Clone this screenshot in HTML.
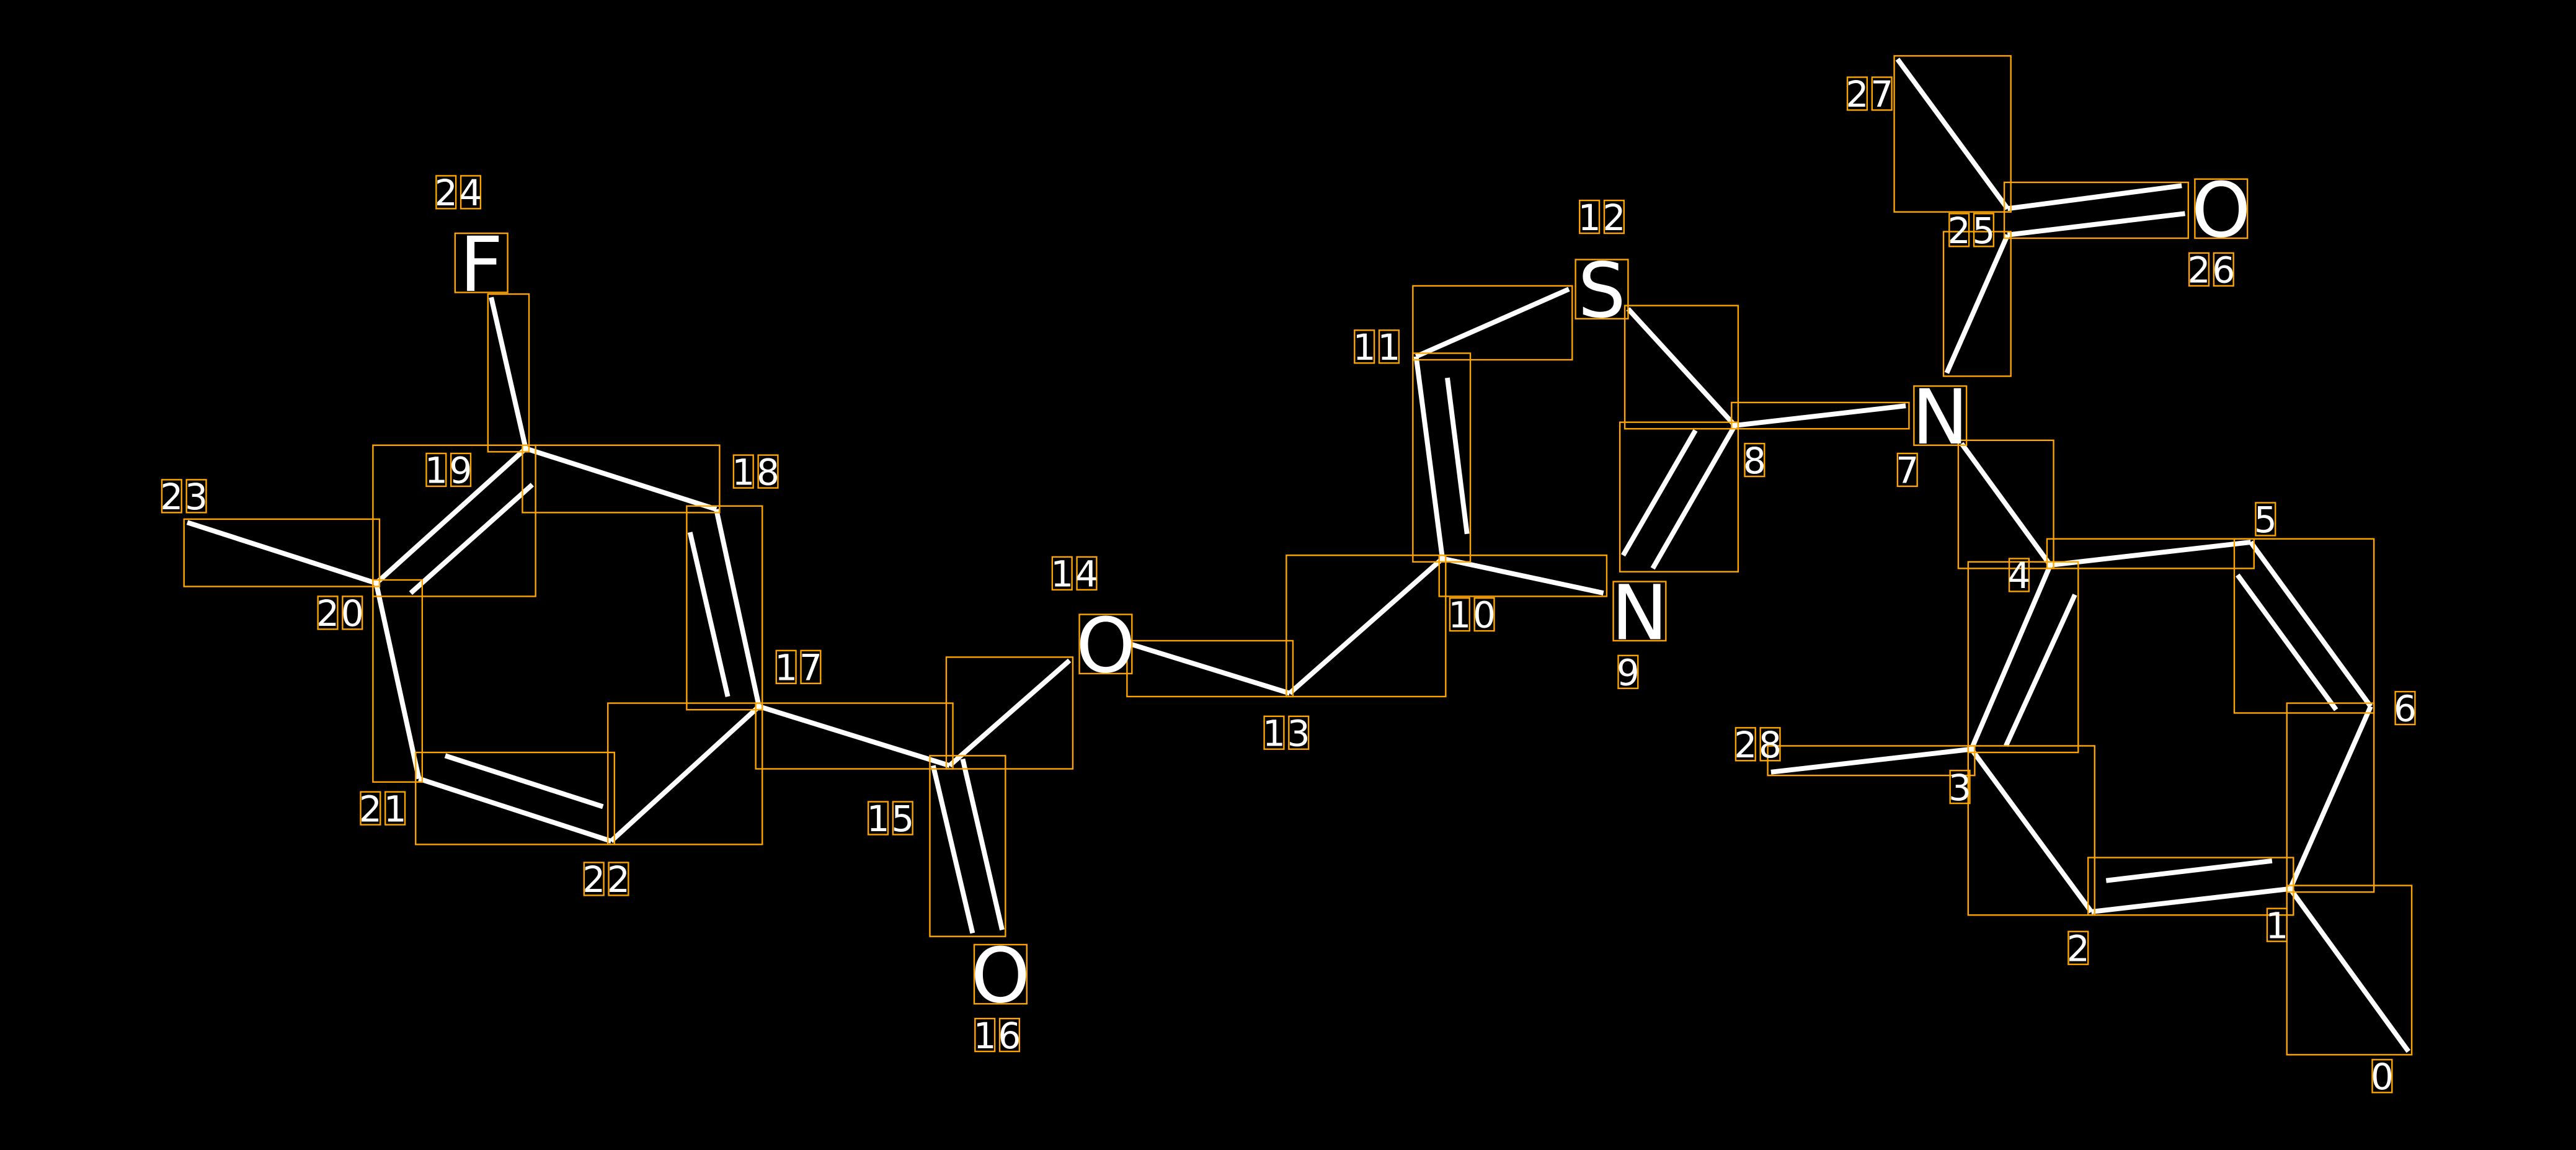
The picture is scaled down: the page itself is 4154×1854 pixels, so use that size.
<!DOCTYPE html>
<html><head><meta charset="utf-8"><style>
html,body{margin:0;padding:0;background:#000;width:4154px;height:1854px;overflow:hidden}
svg{display:block}
text{font-family:"DejaVu Sans","Liberation Sans",sans-serif;fill:#fff}
</style></head><body>
<svg id="s" width="4154" height="1854" viewBox="0 0 1568 700" preserveAspectRatio="none" xmlns="http://www.w3.org/2000/svg">
<rect width="1568" height="700" fill="#000"/>
<g id="b" stroke="#fff" stroke-width="3" stroke-linecap="butt"></g>
<g id="o" fill="none" stroke="#ffa500" stroke-width="0.9"></g>
<g id="t"></g>
</svg>
<script>
var NS="http://www.w3.org/2000/svg";
function el(p,n,a,txt){var e=document.createElementNS(NS,n);for(var k in a)e.setAttribute(k,a[k]);if(txt!==undefined)e.textContent=txt;document.getElementById(p).appendChild(e);return e;}
var bonds=[
[[1466,640,1394,541]],
[[1394,541,1443,430]],
[[1394,541,1273,555],[1282,536,1383,524]],
[[1273,555,1200,456]],
[[1200,456,1248,344],[1221,454,1263,362]],
[[1248,344,1370,330]],
[[1370,330,1443,430],[1362,350,1422,432]],
[[1200,456,1078,470]],
[[1194,270,1248,344]],
[[1160,247,1056,259]],
[[1056,259,1006,346],[1032,262,988,338]],
[[991,188,1056,259]],
[[862,217,955,176]],
[[862,217,878,340],[881,230,893,325]],
[[878,340,976,361]],
[[878,340,785,422]],
[[785,422,688,392]],
[[651,402,578,466]],
[[568,466,592,568],[586,462,610,566]],
[[578,466,462,430]],
[[462,430,436,310],[443,424,420,324]],
[[436,310,320,273]],
[[320,273,299,181]],
[[320,273,229,355],[324,295,250,361]],
[[229,355,114,318]],
[[229,355,255,474]],
[[255,474,372,512],[271,460,367,491]],
[[372,512,462,430]],
[[1222,127,1155,36]],
[[1222,127,1328,113],[1222,143,1330,130]],
[[1222,143,1185,227]]
];
bonds.forEach(function(b){
 var x1=1e9,y1=1e9,x2=-1e9,y2=-1e9;
 b.forEach(function(l){el("b","line",{x1:l[0],y1:l[1],x2:l[2],y2:l[3]});
  x1=Math.min(x1,l[0],l[2]);x2=Math.max(x2,l[0],l[2]);y1=Math.min(y1,l[1],l[3]);y2=Math.max(y2,l[1],l[3]);});
 el("o","rect",{x:x1-2,y:y1-2,width:Math.max(x2-x1+4,10),height:Math.max(y2-y1+4,10)});
});
var atoms=[["F",293,160],["S",975,176],["N",1181,253],["N",998,372],["O",673,392],["O",609,593],["O",1352,127]];
atoms.forEach(function(a){
 el("t","text",{x:a[1],y:a[2]+17,"font-size":46,"text-anchor":"middle"},a[0]);
 el("o","rect",{x:a[1]-16,y:a[2]-18,width:32,height:36});
});
var nums=[["24",279,117],["12",975,132],["27",1138,57],["25",1200,140],["26",1346,164],["11",838,211],["8",1068,280],["7",1161,286],["5",1379,316],["4",1229,350],["6",1464,431],["28",1070,453],["3",1193,479],["2",1265,577],["1",1386,563],["0",1450,655],["9",991,409],["10",896,374],["13",783,446],["14",654,349],["15",542,498],["16",607,630],["17",486,406],["18",460,287],["19",273,286],["20",207,373],["21",233,492],["22",369,535],["23",112,302]];
nums.forEach(function(n){
 var s=n[0],w=15,x0=n[1]-(s.length*w)/2;
 for(var i=0;i<s.length;i++){
  var cx=x0+i*w+w/2;
  el("t","text",{x:cx,y:n[2]+8,"font-size":22,"text-anchor":"middle"},s[i]);
  el("o","rect",{x:cx-6,y:n[2]-10,width:12,height:20});
 }
});
</script>
</body></html>
